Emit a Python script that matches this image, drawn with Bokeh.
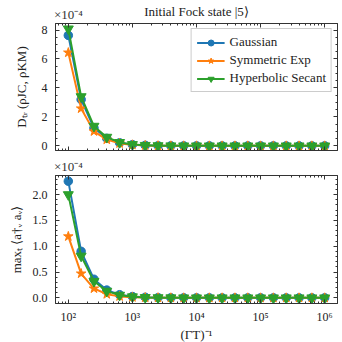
from bokeh.plotting import figure
from bokeh.layouts import column
from bokeh.models import (FixedTicker, LinearAxis, LogAxis, Legend,
                          LegendItem, Range1d, ColumnDataSource)
from bokeh.embed import file_html
from bokeh.resources import INLINE

# ---------------- data ----------------
inv_gamma_T = [100, 158.5, 251.2, 398.1, 631.0, 1000, 1585, 2512, 3981, 6310,
               10000, 15849, 25119, 39811, 63096, 100000, 158489, 251189,
               398107, 630957, 1000000]

series_labels = ["Gaussian", "Symmetric Exp", "Hyperbolic Secant"]

# trace distance D_tr(rho_JC, rho_KM)
dtr_gaussian = [7.63e-4, 3.20e-4, 1.23e-4, 0.52e-4, 0.21e-4, 0.085e-4, 0.034e-4,
                0.014e-4, 0.0055e-4, 0.0022e-4, 0.0009e-4, 0.00035e-4, 0.00014e-4,
                0.00006e-4, 0.00002e-4, 0.00001e-4, 0.0, 0.0, 0.0, 0.0, 0.0]
dtr_symexp = [6.44e-4, 2.58e-4, 1.00e-4, 0.43e-4, 0.17e-4, 0.070e-4, 0.028e-4,
              0.011e-4, 0.0045e-4, 0.0018e-4, 0.0007e-4, 0.0003e-4, 0.00011e-4,
              0.00005e-4, 0.00002e-4, 0.00001e-4, 0.0, 0.0, 0.0, 0.0, 0.0]
dtr_hypsec = [8.08e-4, 3.40e-4, 1.36e-4, 0.60e-4, 0.24e-4, 0.095e-4, 0.038e-4,
              0.015e-4, 0.006e-4, 0.0024e-4, 0.001e-4, 0.0004e-4, 0.00016e-4,
              0.00006e-4, 0.00003e-4, 0.00001e-4, 0.0, 0.0, 0.0, 0.0, 0.0]

# max_t <a_v^dagger a_v>
occ_gaussian = [2.26e-4, 0.90e-4, 0.36e-4, 0.15e-4, 0.060e-4, 0.025e-4, 0.010e-4,
                0.004e-4, 0.0016e-4, 0.0006e-4, 0.00025e-4, 0.0001e-4, 0.00004e-4,
                0.00002e-4, 0.00001e-4, 0.0, 0.0, 0.0, 0.0, 0.0, 0.0]
occ_symexp = [1.19e-4, 0.47e-4, 0.18e-4, 0.07e-4, 0.028e-4, 0.011e-4, 0.0045e-4,
              0.0018e-4, 0.0007e-4, 0.0003e-4, 0.00012e-4, 0.00005e-4, 0.00002e-4,
              0.00001e-4, 0.0, 0.0, 0.0, 0.0, 0.0, 0.0, 0.0]
occ_hypsec = [2.00e-4, 0.81e-4, 0.32e-4, 0.13e-4, 0.052e-4, 0.021e-4, 0.0085e-4,
              0.0034e-4, 0.0014e-4, 0.00055e-4, 0.00022e-4, 0.00009e-4, 0.00004e-4,
              0.00001e-4, 0.00001e-4, 0.0, 0.0, 0.0, 0.0, 0.0, 0.0]

x_major_ticks = [1e2, 1e3, 1e4, 1e5, 1e6]
x_tick_labels = ["10²", "10³", "10⁴", "10⁵", "10⁶"]
top_y_ticks = [0, 2, 4, 6, 8]
bottom_y_ticks = [0.0, 0.5, 1.0, 1.5, 2.0]
bottom_y_tick_labels = ["0.0", "0.5", "1.0", "1.5", "2.0"]
scale = 1e-4
multiplier_text = "×10⁻⁴"
title_text = "Initial Fock state |5⟩"
top_ylabel = "Dₜᵣ (ρJC, ρKM)"
bottom_ylabel = "maxₜ ⟨a†ᵥ aᵥ⟩"
xlabel = "(ΓT)⁻¹"

# ---------------- style ----------------
COLORS = ["#1f77b4", "#ff7f0e", "#2ca02c"]
MARKERS = ["circle", "star", "inverted_triangle"]
MSIZE = [8.5, 10, 10]
FONT = "Liberation Serif"
AX = "#333333"

x_minor = [m * 10 ** e for e in range(1, 7) for m in range(2, 10)]
x_ticker = FixedTicker(ticks=x_major_ticks, minor_ticks=x_minor)


def style_axis(ax, ticks=None):
    ax.major_tick_in = 4
    ax.major_tick_out = 0
    ax.minor_tick_in = 2
    ax.minor_tick_out = 0
    ax.axis_line_color = AX
    ax.major_tick_line_color = AX
    ax.minor_tick_line_color = AX
    ax.major_label_text_font = FONT
    ax.major_label_text_color = "#222222"
    ax.axis_label_text_font = FONT
    ax.axis_label_text_font_style = "normal"
    ax.axis_label_text_color = "#222222"
    if ticks is not None:
        ax.major_label_overrides = {t: "" for t in ticks}
        ax.major_label_text_font_size = "1px"
        ax.major_label_standoff = 0


def make_fig(y0, y1, yticks, yminor, border_top, border_bottom, fh):
    p = figure(x_axis_type="log", frame_width=282, frame_height=fh,
               x_range=Range1d(10 ** 1.8, 10 ** 6.2), y_range=Range1d(y0, y1),
               output_backend="svg", toolbar_location=None,
               min_border_left=55, min_border_right=4,
               min_border_top=border_top, min_border_bottom=border_bottom)
    p.grid.visible = False
    p.outline_line_color = AX
    p.outline_line_width = 1
    p.background_fill_color = "white"
    p.border_fill_color = "white"
    y_ticker = FixedTicker(ticks=yticks, minor_ticks=yminor)
    bottom_ax = p.below[0]
    left_ax = p.left[0]
    bottom_ax.ticker = x_ticker
    left_ax.ticker = y_ticker
    style_axis(bottom_ax)
    style_axis(left_ax)
    ra = LinearAxis(ticker=y_ticker)
    style_axis(ra, ticks=yticks)
    p.add_layout(ra, "right")
    # top axis: inward ticks; its first label carries the x10^-4 multiplier
    ta = LogAxis(ticker=x_ticker)
    style_axis(ta)
    ta.major_label_overrides = {t: (multiplier_text if i == 0 else "")
                                for i, t in enumerate(x_major_ticks)}
    ta.major_label_text_font_size = "13px"
    ta.major_label_text_color = "#333333"
    ta.major_label_standoff = 2
    p.add_layout(ta, "above")
    return p, bottom_ax, left_ax, ta


def add_series(p, ys_list, legend=False):
    items = []
    for ys, c, m, ms, lab in zip(ys_list, COLORS, MARKERS, MSIZE, series_labels):
        src = ColumnDataSource(dict(x=inv_gamma_T, y=[v / scale for v in ys]))
        l = p.line("x", "y", source=src, line_color=c, line_width=2)
        s = p.scatter("x", "y", source=src, marker=m, size=ms, fill_color=c,
                      line_color=c)
        items.append(LegendItem(label=lab, renderers=[l, s]))
    if legend:
        lg = Legend(items=items, location="top_right")
        lg.label_text_font = FONT
        lg.label_text_font_size = "13px"
        lg.label_text_color = "#222222"
        lg.glyph_width = 28
        lg.glyph_height = 15
        lg.label_height = 15
        lg.spacing = 2
        lg.padding = 5
        lg.margin = 5
        lg.border_line_color = "#cccccc"
        lg.border_line_alpha = 1.0
        lg.background_fill_alpha = 0.85
        p.add_layout(lg, "center")


# top panel
p1, bx1, ly1, ta1 = make_fig(-0.32, 8.45, top_y_ticks,
                             [v * 0.5 for v in range(0, 17) if v % 4], 22, 5, 127)
add_series(p1, [dtr_gaussian, dtr_symexp, dtr_hypsec], legend=True)
style_axis(bx1, ticks=x_major_ticks)
ly1.major_label_text_font_size = "12px"
ly1.major_label_standoff = 8
ly1.axis_label = top_ylabel
ly1.axis_label_text_font_size = "13px"
ly1.axis_label_standoff = 10
ta1.axis_label = title_text
ta1.axis_label_text_font_size = "13px"
ta1.axis_label_standoff = -15

# bottom panel
p2, bx2, ly2, ta2 = make_fig(-0.11, 2.37, bottom_y_ticks,
                             [v * 0.1 for v in range(0, 24) if v % 5], 14, 30, 128)
add_series(p2, [occ_gaussian, occ_symexp, occ_hypsec])
ly2.major_label_overrides = {t: s for t, s in zip(bottom_y_ticks, bottom_y_tick_labels)}
ly2.major_label_text_font_size = "12px"
ly2.major_label_standoff = 8
ly2.axis_label = bottom_ylabel
ly2.axis_label_text_font_size = "13px"
ly2.axis_label_standoff = 6
bx2.major_label_overrides = {t: s for t, s in zip(x_major_ticks, x_tick_labels)}
bx2.major_label_text_font_size = "12px"
bx2.major_label_standoff = 6
bx2.axis_label = xlabel
bx2.axis_label_text_font_size = "13px"
bx2.axis_label_standoff = 0

layout = column(p1, p2, spacing=0)
open("out.html", "w").write(file_html(layout, INLINE))
